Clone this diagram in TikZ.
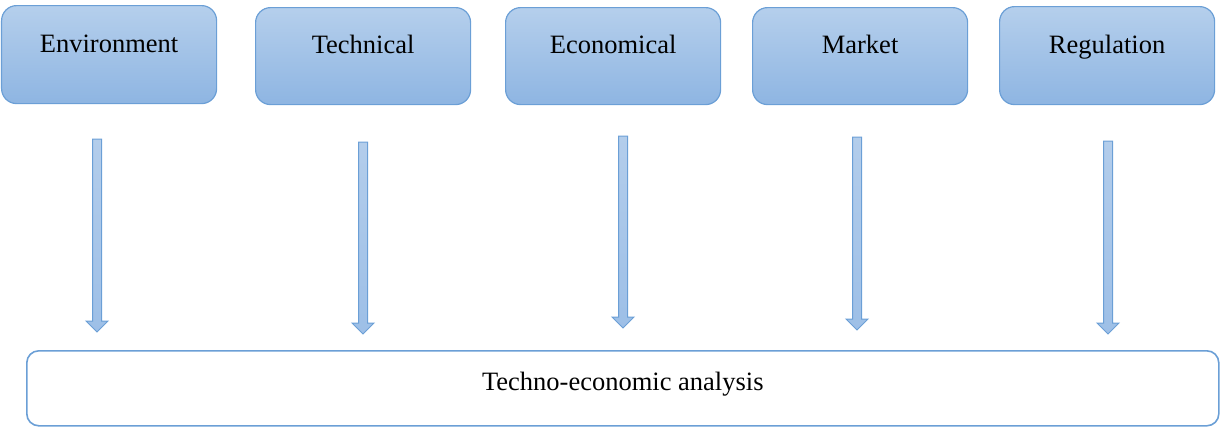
\documentclass[tikz,border=0pt]{standalone}
\usepackage{fontspec}
\setmainfont{Liberation Serif}
\usetikzlibrary{calc}
\definecolor{boxtop}{HTML}{B5CFEC}
\definecolor{boxbot}{HTML}{8EB5E2}
\definecolor{boxline}{HTML}{6B9FD6}
\definecolor{arrtop}{HTML}{B3CDEB}
\definecolor{arrbot}{HTML}{9DBFE7}
\tikzset{
  topbox/.style={rounded corners=15pt, draw=boxline, line width=1.2pt,
    top color=boxtop, bottom color=boxbot, inner sep=0pt, anchor=north west},
  boxlabel/.style={font=\fontsize{26.5}{30}\selectfont, anchor=base, inner sep=0pt},
  blockarrow/.style={draw=boxline, line width=1pt, top color=arrtop, bottom color=arrbot, line join=miter},
  basebox/.style={rounded corners=12pt, draw=boxline, line width=1.6pt, fill=white,
    inner sep=0pt, anchor=north west}
}
\newcommand{\blockarr}[2]{%
  \path[blockarrow] let \p1=(#1), \p2=(#2) in
    (\x1-4.5pt,\y1) -- (\x1+4.5pt,\y1) -- (\x1+4.5pt,\y2+11pt) -- (\x1+11pt,\y2+11pt)
    -- (\x2,\y2) -- (\x1-11pt,\y2+11pt) -- (\x1-4.5pt,\y2+11pt) -- cycle;}
\begin{document}
\begin{tikzpicture}[x=1pt,y=-1pt]
\useasboundingbox (0,0) rectangle (1220,426);

\node[topbox, minimum width=215pt, minimum height=98pt] (env) at (1,5) {};
\node[topbox, minimum width=215pt, minimum height=97pt] (tech) at (255,7) {};
\node[topbox, minimum width=215pt, minimum height=97pt] (econ) at (505,7) {};
\node[topbox, minimum width=215pt, minimum height=97pt] (mark) at (752,7) {};
\node[topbox, minimum width=215pt, minimum height=98pt] (regu) at (999,6) {};

\node[boxlabel] (envt) at ([yshift=-47pt]env.north) {Environment};
\node[boxlabel] (techt) at ([yshift=-46pt]tech.north) {Technical};
\node[boxlabel] (econt) at ([yshift=-46pt]econ.north) {Economical};
\node[boxlabel] (markt) at ([yshift=-46pt]mark.north) {Market};
\node[boxlabel] (regut) at ([yshift=-47pt]regu.north) {Regulation};

\node[basebox, minimum width=1192pt, minimum height=75pt] (tea) at (26,350) {};
\node[boxlabel] (teat) at ([yshift=-40pt]tea.north) {Techno-economic analysis};

\coordinate (a1s) at (97,139);  \coordinate (a1e) at (97,332);
\coordinate (a2s) at (363,142); \coordinate (a2e) at (363,334);
\coordinate (a3s) at (623,136); \coordinate (a3e) at (623,328);
\coordinate (a4s) at (857,137); \coordinate (a4e) at (857,330);
\coordinate (a5s) at (1108,141); \coordinate (a5e) at (1108,334);
\blockarr{a1s}{a1e}
\blockarr{a2s}{a2e}
\blockarr{a3s}{a3e}
\blockarr{a4s}{a4e}
\blockarr{a5s}{a5e}
\end{tikzpicture}
\end{document}
